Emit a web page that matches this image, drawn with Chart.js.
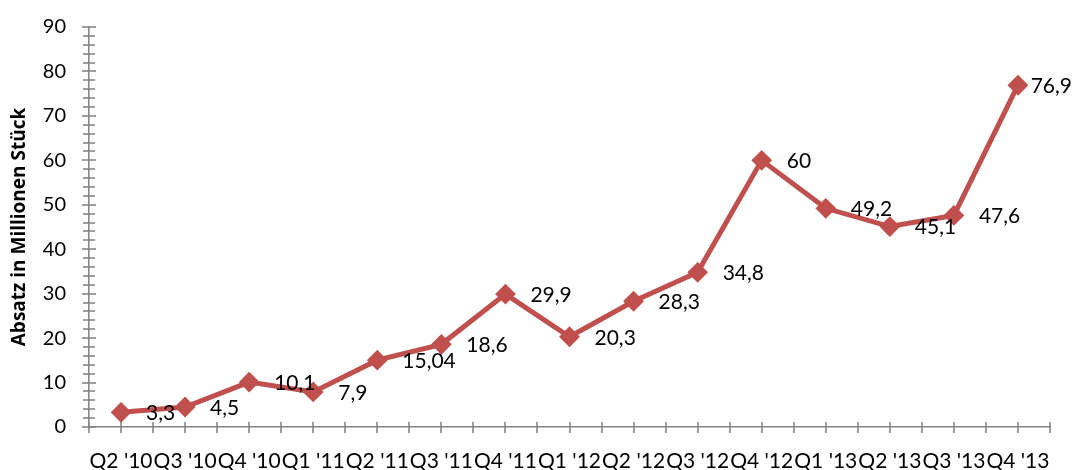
<!DOCTYPE html>
<html>
<head>
<meta charset="utf-8">
<script src="https://cdn.jsdelivr.net/npm/chart.js@4/dist/chart.umd.min.js"></script>
<style>
  html, body { margin: 0; padding: 0; background: #ffffff; }
  #wrap { width: 1075px; height: 470px; position: relative; }
</style>
</head>
<body>
<div id="wrap"><canvas id="c" width="1075" height="470"></canvas></div>
<script>
const categories = ["Q2 '10", "Q3 '10", "Q4 '10", "Q1 '11", "Q2 '11", "Q3 '11", "Q4 '11", "Q1 '12", "Q2 '12", "Q3 '12", "Q4 '12", "Q1 '13", "Q2 '13", "Q3 '13", "Q4 '13"];
const absatz = [3.3, 4.5, 10.1, 7.9, 15.04, 18.6, 29.9, 20.3, 28.3, 34.8, 60, 49.2, 45.1, 47.6, 76.9];
const yAxisTitle = "Absatz in Millionen Stück";
const yMin = 0, yMax = 90, yMajorStep = 10, yMinorStep = 2;

const LINE_COLOR = '#C0504D';
const AXIS_COLOR = '#868686';
const FONT = 'Lato, "Open Sans", sans-serif';

const tickMarks = {
  id: 'tickMarks',
  beforeDatasetsDraw(chart) {
    const ctx = chart.ctx;
    const xs = chart.scales.x, ys = chart.scales.y;
    ctx.save();
    ctx.strokeStyle = AXIS_COLOR;
    ctx.lineWidth = 1.6;
    const y0 = ys.getPixelForValue(yMin);
    for (let i = -0.5; i <= categories.length - 0.5; i += 0.5) {
      const px = Math.round(xs.getPixelForValue(i));
      ctx.beginPath();
      ctx.moveTo(px, y0 - 5);
      ctx.lineTo(px, y0 + 6);
      ctx.stroke();
    }
    const x0 = xs.left;
    for (let v = yMin; v <= yMax + 1e-9; v += yMinorStep) {
      const py = Math.round(ys.getPixelForValue(v));
      const major = Math.abs(v % yMajorStep) < 1e-9;
      const half = major ? 7 : 6;
      ctx.beginPath();
      ctx.moveTo(x0 - half, py);
      ctx.lineTo(x0 + half, py);
      ctx.stroke();
    }
    ctx.restore();
  }
};

const dataLabels = {
  id: 'dataLabels',
  afterDatasetsDraw(chart) {
    const ctx = chart.ctx;
    const meta = chart.getDatasetMeta(0);
    const vals = chart.data.datasets[0].data;
    ctx.save();
    ctx.font = '21px ' + FONT;
    ctx.fillStyle = '#000000';
    ctx.textAlign = 'left';
    ctx.textBaseline = 'middle';
    meta.data.forEach((pt, i) => {
      const txt = String(vals[i]).replace('.', ',');
      const w = ctx.measureText(txt).width;
      let x = pt.x + 25;
      if (x + w > chart.width - 3) x = chart.width - 3 - w;
      ctx.fillText(txt, x, pt.y + 1);
    });
    ctx.restore();
  }
};

new Chart(document.getElementById('c'), {
  type: 'line',
  data: {
    labels: categories,
    datasets: [{
      data: absatz,
      borderColor: LINE_COLOR,
      backgroundColor: LINE_COLOR,
      borderWidth: 5,
      pointStyle: 'rectRot',
      pointRadius: 9,
      pointBorderWidth: 2,
      pointBackgroundColor: LINE_COLOR,
      pointBorderColor: LINE_COLOR,
      tension: 0,
      fill: false
    }]
  },
  options: {
    responsive: false,
    animation: false,
    devicePixelRatio: 1,
    layout: { padding: { top: 25, right: 25, left: 0, bottom: 0 } },
    plugins: {
      legend: { display: false },
      tooltip: { enabled: false },
      title: { display: false }
    },
    scales: {
      x: {
        type: 'category',
        offset: true,
        border: { display: true, color: AXIS_COLOR, width: 1.6 },
        grid: { display: true, drawOnChartArea: false, drawTicks: true, tickLength: 6, color: 'rgba(0,0,0,0)' },
        ticks: {
          autoSkip: false, maxRotation: 0, minRotation: 0,
          color: '#000000', padding: 16,
          font: { family: FONT, size: 21 }
        },
        afterFit(scale) { scale.height = 43; }
      },
      y: {
        min: yMin, max: yMax,
        border: { display: true, color: AXIS_COLOR, width: 1.6 },
        grid: { display: true, drawOnChartArea: false, drawTicks: true, tickLength: 8, color: 'rgba(0,0,0,0)' },
        ticks: {
          stepSize: yMajorStep,
          color: '#000000', padding: 15,
          font: { family: FONT, size: 20 }
        },
        title: {
          display: true,
          text: yAxisTitle,
          color: '#000000',
          padding: { top: 8, bottom: 0 },
          font: { family: '"Open Sans", Lato, sans-serif', size: 19, weight: 'bold' }
        },
        afterFit(scale) { scale.width = 89; }
      }
    }
  },
  plugins: [tickMarks, dataLabels]
});
</script>
</body>
</html>
